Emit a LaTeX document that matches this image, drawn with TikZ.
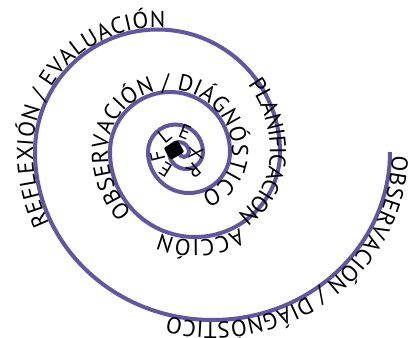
\documentclass[tikz,border=0pt]{standalone}
\usepackage{fontspec}
\usepackage{tikz}
\usetikzlibrary{decorations.text}
\newfontfamily\spiralfont{PT Sans}
\newcommand{\spiraltext}{\spiralfont\fontsize{23}{25}\selectfont}
\newcommand{\innertext}{\spiralfont\fontsize{20}{22}\selectfont}
\definecolor{spiralblue}{RGB}{96,86,162}

\begin{document}
\begin{tikzpicture}[x=1pt, y=1pt, spiral_style/.style={draw=spiralblue, line width=4pt},
			word_style/.style n args={4}{postaction={decorate, decoration={text along path, text={|\spiraltext|#1}, text align={fit to path, left indent=#2, right indent=#3}, raise=#4}}},
			letter_style/.style={font=\innertext, inner sep=0pt}]
			
			\useasboundingbox (0,0) rectangle (416,-338);
			
			% spiral, total length about 1699pt
			\draw[spiral_style,
				word_style={OBSERVACIÓN / DIÁGNÓSTICO}{3pt}{1383pt}{2pt},
				word_style={REFLEXIÓN / EVALUACIÓN}{470pt}{956pt}{2pt},
				word_style={PLANIFICACION}{850pt}{690pt}{-10pt},
				word_style={ACCIÓN}{1016pt}{603pt}{3pt},
				word_style={OBSERVACIÓN / DIÁGNÓSTICO}{1130pt}{263pt}{2pt}]
				(390,-152) arc[start angle=0, end angle=-180, x radius=177.5, y radius=168]
				arc[start angle=180, end angle=0, radius=122.5]
				arc[start angle=0, end angle=-180, radius=85]
				arc[start angle=180, end angle=0, radius=60]
				arc[start angle=0, end angle=-180, radius=41]
				arc[start angle=180, end angle=0, radius=27.5]
				arc[start angle=0, end angle=-180, radius=17]
				arc[start angle=180, end angle=0, radius=10]
				arc[start angle=0, end angle=-180, radius=5];
			
			\begin{scope}[shift={(177,-151)}]
				\foreach \x/\y/\r [count=\i] in {-50/R/26,-122/E/22,-166/F/20,129/L/20,68/E/21,-6/X/19}{
					\node[letter_style, rotate=\x-90] (inner_\i) at (\x:\r){\y};}
			\end{scope}
			
			\fill[black, rounded corners=2pt, rotate around={30:(174,-150)}] (166,-157) rectangle (182,-143);
		\end{tikzpicture}
\end{document}
